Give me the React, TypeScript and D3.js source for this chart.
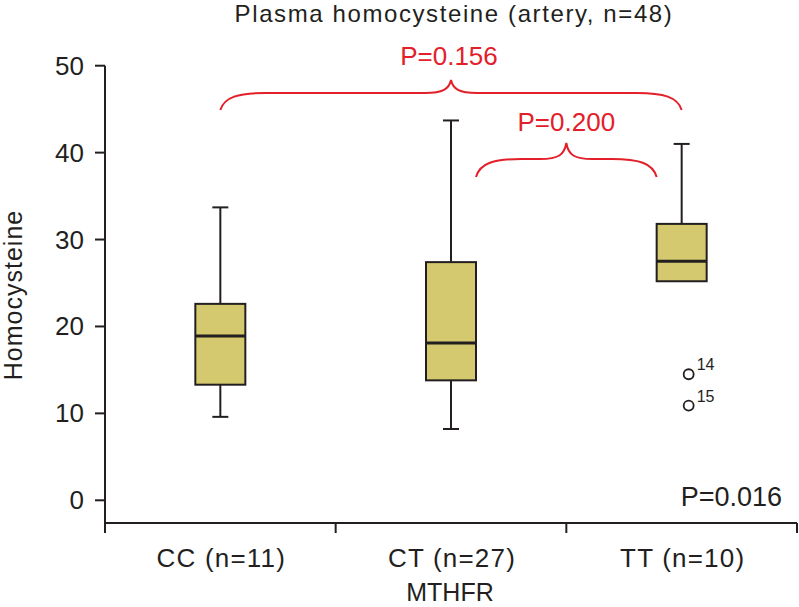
import React, { useRef, useEffect } from 'react';
import * as d3 from 'd3';

const groups = ['CC (n=11)', 'CT (n=27)', 'TT (n=10)'];
const whiskerLow = [9.6, 8.2, 25.2];
const q1 = [13.3, 13.8, 25.2];
const median = [18.9, 18.1, 27.5];
const q3 = [22.6, 27.4, 31.8];
const whiskerHigh = [33.7, 43.7, 41.0];
const outlierGroup = ['TT (n=10)', 'TT (n=10)'];
const outlierValues = [14.5, 10.9];
const outlierIds = ['14', '15'];
const yTicks = [0, 10, 20, 30, 40, 50];
const comparisons = [
    { from: 'CC (n=11)', to: 'TT (n=10)', tip: 'CT (n=27)', label: 'P=0.156' },
    { from: 'CT (n=27)', to: 'TT (n=10)', tip: null, label: 'P=0.200' },
];

export default function App() {
    const svgRef = useRef<SVGSVGElement | null>(null);

    useEffect(() => {
        const width = 799;
        const height = 607;
        const font = 'Arial, "Liberation Sans", sans-serif';
        const red = '#e3202a';
        const dark = '#231f20';

        d3.select(svgRef.current).selectAll('*').remove();
        const svg = d3.select(svgRef.current).attr('width', width).attr('height', height);

        const x = d3.scaleBand().domain(groups).range([105, 797]);
        const y = d3.scaleLinear().domain([0, 50]).range([500.3, 65.7]);
        const cx = (g: string) => x(g)! + x.bandwidth() / 2;
        const boxW = 50;
        const axisY = 523;

        // title
        svg.append('text')
            .attr('x', 454)
            .attr('y', 22)
            .attr('text-anchor', 'middle')
            .attr('font-family', font)
            .attr('font-size', 24)
            .attr('letter-spacing', 1.6)
            .attr('fill', dark)
            .text('Plasma homocysteine (artery, n=48)');

        // y axis
        svg.append('line')
            .attr('x1', 105).attr('x2', 105)
            .attr('y1', y(50)).attr('y2', axisY + 10)
            .attr('stroke', dark).attr('stroke-width', 2);
        yTicks.forEach((t) => {
            svg.append('line')
                .attr('x1', 95).attr('x2', 105)
                .attr('y1', y(t)).attr('y2', y(t))
                .attr('stroke', dark).attr('stroke-width', 2);
            svg.append('text')
                .attr('x', 84)
                .attr('y', y(t) + 9)
                .attr('text-anchor', 'end')
                .attr('font-family', font)
                .attr('font-size', 26)
                .attr('fill', dark)
                .text(t);
        });
        svg.append('text')
            .attr('transform', `translate(22,${295}) rotate(-90)`)
            .attr('text-anchor', 'middle')
            .attr('font-family', font)
            .attr('font-size', 25)
            .attr('letter-spacing', 1)
            .attr('fill', dark)
            .text('Homocysteine');

        // x axis
        svg.append('line')
            .attr('x1', 105).attr('x2', 797)
            .attr('y1', axisY).attr('y2', axisY)
            .attr('stroke', dark).attr('stroke-width', 2);
        [...groups.slice(1).map((g) => x(g)!), 797].forEach((tx) => {
            svg.append('line')
                .attr('x1', tx).attr('x2', tx)
                .attr('y1', axisY).attr('y2', axisY + 10)
                .attr('stroke', dark).attr('stroke-width', 2);
        });
        groups.forEach((g) => {
            svg.append('text')
                .attr('x', cx(g) + 1)
                .attr('y', 567)
                .attr('text-anchor', 'middle')
                .attr('font-family', font)
                .attr('font-size', 26)
                .attr('letter-spacing', 1.2)
                .attr('fill', dark)
                .text(g);
        });
        svg.append('text')
            .attr('x', 450)
            .attr('y', 601)
            .attr('text-anchor', 'middle')
            .attr('font-family', font)
            .attr('font-size', 25)
            .attr('fill', dark)
            .text('MTHFR');

        // boxes
        groups.forEach((g, i) => {
            const c = cx(g);
            svg.append('line')
                .attr('x1', c).attr('x2', c)
                .attr('y1', y(whiskerHigh[i])).attr('y2', y(q3[i]))
                .attr('stroke', dark).attr('stroke-width', 2);
            svg.append('line')
                .attr('x1', c).attr('x2', c)
                .attr('y1', y(q1[i])).attr('y2', y(whiskerLow[i]))
                .attr('stroke', dark).attr('stroke-width', 2);
            [whiskerHigh[i], whiskerLow[i]].forEach((v) => {
                if (v === q1[i]) return;
                svg.append('line')
                    .attr('x1', c - 8).attr('x2', c + 8)
                    .attr('y1', y(v)).attr('y2', y(v))
                    .attr('stroke', dark).attr('stroke-width', 2);
            });
            svg.append('rect')
                .attr('x', c - boxW / 2)
                .attr('y', y(q3[i]))
                .attr('width', boxW)
                .attr('height', y(q1[i]) - y(q3[i]))
                .attr('fill', '#d5c96f')
                .attr('stroke', dark)
                .attr('stroke-width', 2);
            svg.append('line')
                .attr('x1', c - boxW / 2).attr('x2', c + boxW / 2)
                .attr('y1', y(median[i])).attr('y2', y(median[i]))
                .attr('stroke', dark).attr('stroke-width', 3);
        });

        // outliers
        outlierValues.forEach((v, i) => {
            const c = cx(outlierGroup[i]) + 7;
            svg.append('circle')
                .attr('cx', c).attr('cy', y(v)).attr('r', 5)
                .attr('fill', 'none').attr('stroke', dark).attr('stroke-width', 1.8);
            svg.append('text')
                .attr('x', c + 8).attr('y', y(v) - 4)
                .attr('font-family', font).attr('font-size', 16)
                .attr('fill', dark)
                .text(outlierIds[i]);
        });

        // brackets
        const brace = (x0: number, x1: number, xm: number, yEnd: number, yH: number, yTip: number) => {
            const p = d3.path();
            p.moveTo(x0, yEnd);
            p.bezierCurveTo(x0 + 4, yH + 4, x0 + 18, yH, x0 + 45, yH);
            p.lineTo(xm - 26, yH);
            p.bezierCurveTo(xm - 8, yH, xm - 2, yH - 4, xm, yTip);
            p.bezierCurveTo(xm + 2, yH - 4, xm + 8, yH, xm + 26, yH);
            p.lineTo(x1 - 45, yH);
            p.bezierCurveTo(x1 - 18, yH, x1 - 4, yH + 4, x1, yEnd);
            return p.toString();
        };
        const c0 = comparisons[0];
        const m0 = cx(c0.tip!);
        svg.append('path')
            .attr('d', brace(cx(c0.from), cx(c0.to), m0, 110, 93, 80))
            .attr('fill', 'none').attr('stroke', red).attr('stroke-width', 2);
        svg.append('text')
            .attr('x', m0 - 2).attr('y', 65)
            .attr('text-anchor', 'middle')
            .attr('font-family', font).attr('font-size', 26)
            .attr('fill', red)
            .text(c0.label);

        const c1 = comparisons[1];
        const m1 = x(c1.to)!;
        svg.append('path')
            .attr('d', brace(cx(c1.from) + boxW / 2, cx(c1.to) - boxW / 2, m1, 177, 159, 143))
            .attr('fill', 'none').attr('stroke', red).attr('stroke-width', 2);
        svg.append('text')
            .attr('x', m1).attr('y', 131)
            .attr('text-anchor', 'middle')
            .attr('font-family', font).attr('font-size', 26)
            .attr('fill', red)
            .text(c1.label);

        // overall p
        svg.append('text')
            .attr('x', 782).attr('y', 506)
            .attr('text-anchor', 'end')
            .attr('font-family', font).attr('font-size', 27)
            .attr('fill', dark)
            .text('P=0.016');
    }, []);

    return <svg ref={svgRef} style={{ position: 'absolute', left: 0, top: 0 }}></svg>;
}
